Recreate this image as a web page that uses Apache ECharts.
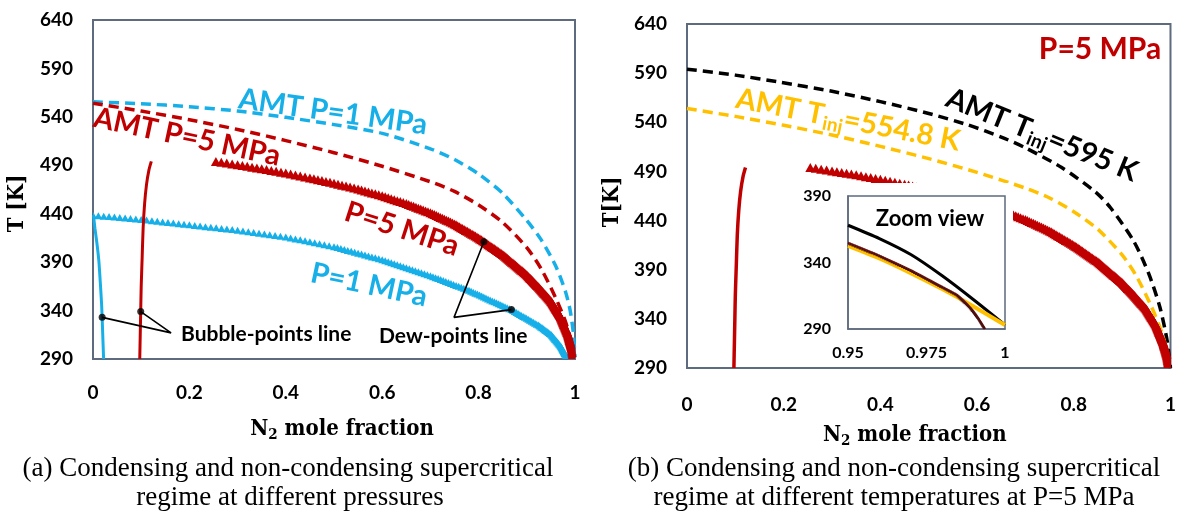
<!DOCTYPE html>
<html>
<head>
<meta charset="utf-8">
<script src="https://cdn.jsdelivr.net/npm/echarts@6.0.0/dist/echarts.min.js"></script>
<style>
  html, body { margin: 0; padding: 0; background: #fff; }
  #chart { width: 1179px; height: 513px; }
</style>
</head>
<body>
<div id="chart"></div>
<script>
// ---- axis ticks ----
const yTicks = [290, 340, 390, 440, 490, 540, 590, 640];
const insetXTicks = [0.95, 0.975, 1];
const insetYTicks = [290, 340, 390];

// ---- AMT (adiabatic mixing temperature) curves: [N2 mole fraction, T in K] ----
const amtP1 = [[0, 555.5], [0.1, 553.5], [0.2, 550.5], [0.3, 546], [0.4, 539.5], [0.5, 532],
  [0.6, 523], [0.7, 507], [0.75, 496], [0.8, 481], [0.85, 461], [0.9, 433], [0.93, 413],
  [0.96, 386], [0.98, 360], [0.99, 340], [0.997, 315], [1.0, 292]];
// P = 5 MPa, injection at 554.8 K
const amtP5 = [[0, 554], [0.1, 546], [0.2, 537], [0.3, 527], [0.4, 515.5], [0.5, 503],
  [0.6, 489], [0.7, 473], [0.75, 463], [0.8, 449], [0.85, 431], [0.9, 405], [0.93, 383],
  [0.96, 353], [0.98, 329], [0.993, 307], [1.0, 290]];
// P = 5 MPa, injection at 595 K
const amtT595 = [[0, 594], [0.1, 588], [0.19, 581], [0.3, 571.5], [0.4, 561], [0.5, 549],
  [0.58, 537.5], [0.65, 525], [0.7, 514], [0.775, 494], [0.845, 469], [0.876, 453],
  [0.924, 419], [0.955, 386], [0.978, 352], [0.993, 318], [1.0, 290]];

// ---- phase envelope ----
const dewP5 = [[0.255, 494], [0.3, 490.5], [0.35, 486.5], [0.4, 482], [0.45, 477], [0.5, 471.5],
  [0.55, 465.5], [0.6, 458.5], [0.65, 450.5], [0.7, 441], [0.75, 429.5], [0.8, 415], [0.85, 398],
  [0.9, 377], [0.925, 364], [0.95, 350], [0.97, 334], [0.985, 316], [0.993, 302], [0.997, 290]];
const dewP1 = [[0, 438.5], [0.1, 434], [0.2, 428.5], [0.3, 423], [0.4, 416], [0.5, 406],
  [0.6, 392.5], [0.7, 376], [0.78, 361], [0.868, 341], [0.924, 325], [0.95, 315.5],
  [0.97, 303.5], [0.985, 290]];
const bubbleP5 = [[0.097, 290], [0.098, 315], [0.099, 340], [0.1, 365], [0.102, 395], [0.104, 425],
  [0.107, 450], [0.111, 470], [0.116, 485], [0.121, 494]];
const bubbleP1 = [[0.001, 438.5], [0.004, 425], [0.008, 410], [0.012, 392], [0.015, 370],
  [0.018, 345], [0.02, 318], [0.022, 290]];

// ---- zoom view near pure N2 (P = 5 MPa) ----
const insetT595 = [[0.95, 368], [0.96, 358], [0.97, 346], [0.98, 330], [0.99, 312], [1.0, 293]];
const insetT554 = [[0.95, 352.4], [0.96, 343], [0.97, 332], [0.98, 320], [0.99, 307], [1.0, 293]];
const insetDew = [[0.95, 354.7], [0.96, 345], [0.97, 334], [0.98, 321.5], [0.9847, 315.5],
  [0.9889, 306], [0.9915, 298], [0.9936, 290]];

// ---- leader lines: point on curve -> label anchor -> point on curve ----
const bubbleLeader = [[0.019, 333], [0.162, 317], [0.099, 339]];
const dewLeader = [[0.811, 411], [0.749, 333], [0.868, 341]];

const SANS = 'Lato';
const SERIF_COND = '"DejaVu Serif Condensed", "DejaVu Serif", serif';
const BLUE = '#17afe8', RED = '#c00000', YELLOW = '#ffc000', DARKRED = '#7a1a1a', BORDER = '#5e6a7d';
const deg = Math.PI / 180;

// Row of upright triangles laid along a curve, one per pixel of vertical travel
function triangleBand(data, xi, yi, color, w, h, z) {
  return {
    type: 'custom', xAxisIndex: xi, yAxisIndex: yi, z: z, silent: true, clip: true,
    data: data, encode: { x: 0, y: 1 },
    renderItem: function (params, api) {
      const i = params.dataIndex;
      const last = i === data.length - 1;
      const a = api.coord(data[i]);
      const b = last ? a : api.coord(data[i + 1]);
      const dx = b[0] - a[0], dy = b[1] - a[1];
      const n = last ? 1 : Math.max(1, Math.ceil(Math.abs(dy)), Math.ceil(Math.abs(dx) / 6));
      const children = [];
      for (let k = 0; k < n; k++) {
        const t = k / n;
        const cx = a[0] + dx * t, cy = a[1] + dy * t;
        children.push({
          type: 'polygon',
          shape: { points: [[cx, cy - h / 2], [cx - w / 2, cy + h / 2], [cx + w / 2, cy + h / 2]] },
          style: { fill: color }
        });
      }
      return { type: 'group', children: children };
    }
  };
}

function dashed(data, xi, yi, color, z) {
  return {
    type: 'line', xAxisIndex: xi, yAxisIndex: yi, data: data, z: z || 3,
    symbol: 'none', smooth: 0.25, silent: true,
    lineStyle: { color: color, width: 3.5, type: [10, 6] }
  };
}
function solid(data, xi, yi, color, width, z) {
  return {
    type: 'line', xAxisIndex: xi, yAxisIndex: yi, data: data, z: z || 3,
    symbol: 'none', smooth: 0.25, silent: true,
    lineStyle: { color: color, width: width }
  };
}
function leader(data, xi, yi) {
  return [
    { type: 'line', xAxisIndex: xi, yAxisIndex: yi, data: data, z: 6, symbol: 'none', silent: true,
      lineStyle: { color: '#000', width: 1.6 } },
    { type: 'scatter', xAxisIndex: xi, yAxisIndex: yi, data: [data[0], data[2]], z: 7, silent: true,
      symbol: 'circle', symbolSize: 7, itemStyle: { color: '#000' } }
  ];
}

const tickLabel = { color: '#000', fontFamily: SANS, fontWeight: 'bold', fontSize: 19 };
const axisTitle = {
  color: '#000', fontFamily: SERIF_COND, fontWeight: 'bold', fontSize: 22,
  rich: {
    n: { fontFamily: SERIF_COND, fontWeight: 'bold', fontSize: 22, color: '#000' },
    s: { fontFamily: SERIF_COND, fontWeight: 'bold', fontSize: 15, color: '#000', padding: [12, 0, 0, 0] }
  }
};
const axisLine = { show: true, lineStyle: { color: BORDER, width: 2 } };

function xMain(gi, margin, gap, pad) {
  return {
    gridIndex: gi, type: 'value', min: 0, max: 1, interval: 0.2,
    axisLine: axisLine, axisTick: { show: false }, splitLine: { show: false },
    axisLabel: Object.assign({ margin: margin }, tickLabel),
    name: '{n|N}{s|2}{n| mole fraction}', nameLocation: 'middle', nameGap: gap,
    nameTextStyle: Object.assign({ padding: pad }, axisTitle)
  };
}
function yMain(gi, title, gap, pad) {
  return {
    gridIndex: gi, type: 'value', min: 290, max: 640,
    axisLine: axisLine, axisTick: { show: false }, splitLine: { show: false },
    axisLabel: Object.assign({ margin: 20, customValues: yTicks }, tickLabel),
    name: title, nameLocation: 'middle', nameRotate: 90, nameGap: gap,
    nameTextStyle: { color: '#000', fontFamily: SERIF_COND, fontWeight: 'bold', fontSize: 22, padding: pad }
  };
}

function label(x, y, text, color, size, rot, align) {
  return {
    type: 'text', x: x, y: y, rotation: (rot || 0) * deg, z: 50, silent: true,
    style: {
      text: text, fill: color, font: 'bold ' + size + 'px ' + SANS,
      align: align || 'center', textAlign: align || 'center',
      verticalAlign: 'middle', textVerticalAlign: 'middle'
    }
  };
}
function subLabel(x, y, pre, sub, post, color, rot) {
  return {
    type: 'text', x: x, y: y, rotation: rot * deg, z: 50, silent: true,
    style: {
      text: '{a|' + pre + '}{b|' + sub + '}{a|' + post + '}',
      align: 'center', textAlign: 'center', verticalAlign: 'middle', textVerticalAlign: 'middle',
      rich: {
        a: { fontFamily: SANS, fontWeight: 'bold', fontSize: 29, fill: color, color: color },
        b: { fontFamily: SANS, fontWeight: 'bold', fontSize: 19, fill: color, color: color, padding: [16, 0, 0, 0] }
      }
    }
  };
}
function caption(x, y, text) {
  return {
    type: 'text', x: x, y: y, z: 50, silent: true,
    style: {
      text: text, fill: '#000', font: '27px "Liberation Serif", serif',
      align: 'center', textAlign: 'center', verticalAlign: 'middle', textVerticalAlign: 'middle'
    }
  };
}

const chart = echarts.init(document.getElementById('chart'), null, { renderer: 'canvas' });

chart.setOption({
  animation: false,
  backgroundColor: '#fff',
  grid: [
    { left: 93, top: 20, width: 482, height: 339, show: true, borderColor: BORDER, borderWidth: 2 },
    { left: 687, top: 24, width: 485, height: 344, show: true, borderColor: BORDER, borderWidth: 2 },
    { left: 848, top: 196, width: 157, height: 133, show: true, borderColor: BORDER, borderWidth: 1.5,
      backgroundColor: '#fff', z: 101 }
  ],
  xAxis: [
    xMain(0, 24, 57, [0, 0, 0, 16]),
    xMain(1, 27, 54, [0, 28, 0, 0]),
    { gridIndex: 2, type: 'value', min: 0.95, max: 1, z: 101,
      axisLine: { show: true, lineStyle: { color: BORDER, width: 1.5 } },
      axisTick: { show: false }, splitLine: { show: false },
      axisLabel: { customValues: insetXTicks, margin: 16, color: '#000', fontFamily: SANS, fontWeight: 'bold', fontSize: 16 } }
  ],
  yAxis: [
    yMain(0, 'T [K]', 65, [0, 28, 0, 0]),
    yMain(1, 'T[K]', 64, [0, 12, 0, 0]),
    { gridIndex: 2, type: 'value', min: 290, max: 390, z: 101,
      axisLine: { show: true, lineStyle: { color: BORDER, width: 1.5 } },
      axisTick: { show: false }, splitLine: { show: false },
      axisLabel: { customValues: insetYTicks, margin: 17, color: '#000', fontFamily: SANS, fontWeight: 'bold', fontSize: 16 } }
  ],
  series: [
    // (a) different pressures
    dashed(amtP1, 0, 0, BLUE),
    dashed(amtP5, 0, 0, RED),
    triangleBand(dewP1, 0, 0, BLUE, 8, 7, 4),
    triangleBand(dewP5, 0, 0, RED, 10, 9, 4),
    solid(bubbleP1, 0, 0, BLUE, 3, 4),
    solid(bubbleP5, 0, 0, RED, 3, 4),
    ...leader(bubbleLeader, 0, 0),
    ...leader(dewLeader, 0, 0),
    // (b) different injection temperatures at 5 MPa
    dashed(amtT595, 1, 1, '#000'),
    dashed(amtP5, 1, 1, YELLOW),
    triangleBand(dewP5, 1, 1, RED, 10, 9, 4),
    solid(bubbleP5, 1, 1, RED, 3.5, 4),
    // zoom view
    solid(insetT595, 2, 2, '#000', 3, 102),
    solid(insetT554, 2, 2, YELLOW, 4, 102),
    solid(insetDew, 2, 2, DARKRED, 2.5, 103),
    triangleBand(insetDew, 2, 2, '#4a0f0f', 3, 3, 104)
  ],
  graphic: [
    // white panel behind the zoom view
    { type: 'rect', z: 100, silent: true, shape: { x: 800, y: 183, width: 213, height: 181 }, style: { fill: '#fff' } },

    label(333, 112, 'AMT P=1 MPa', BLUE, 29, -8),
    label(187, 137, 'AMT P=5 MPa', RED, 29, -12),
    label(402, 229, 'P=5 MPa', RED, 29, -18),
    label(369, 285, 'P=1 MPa', BLUE, 29, -12),
    label(181, 334, 'Bubble-points line', '#000', 21, 0, 'left'),
    label(379, 336, 'Dew-points line', '#000', 21, 0, 'left'),

    label(1100, 49, 'P=5 MPa', RED, 30, 0),
    subLabel(848, 120, 'AMT T', 'inj', '=554.8 K', YELLOW, -11),
    subLabel(1042, 135, 'AMT T', 'inj', '=595 K', '#000', -22),
    Object.assign(label(930, 219, 'Zoom view', '#000', 22, 0), { z: 110 }),

    caption(288, 469, '(a) Condensing and non-condensing supercritical'),
    caption(290, 498, 'regime at different pressures'),
    caption(894, 469, '(b) Condensing and non-condensing supercritical'),
    caption(894, 498, 'regime at different temperatures at P=5 MPa')
  ]
});
</script>
</body>
</html>
